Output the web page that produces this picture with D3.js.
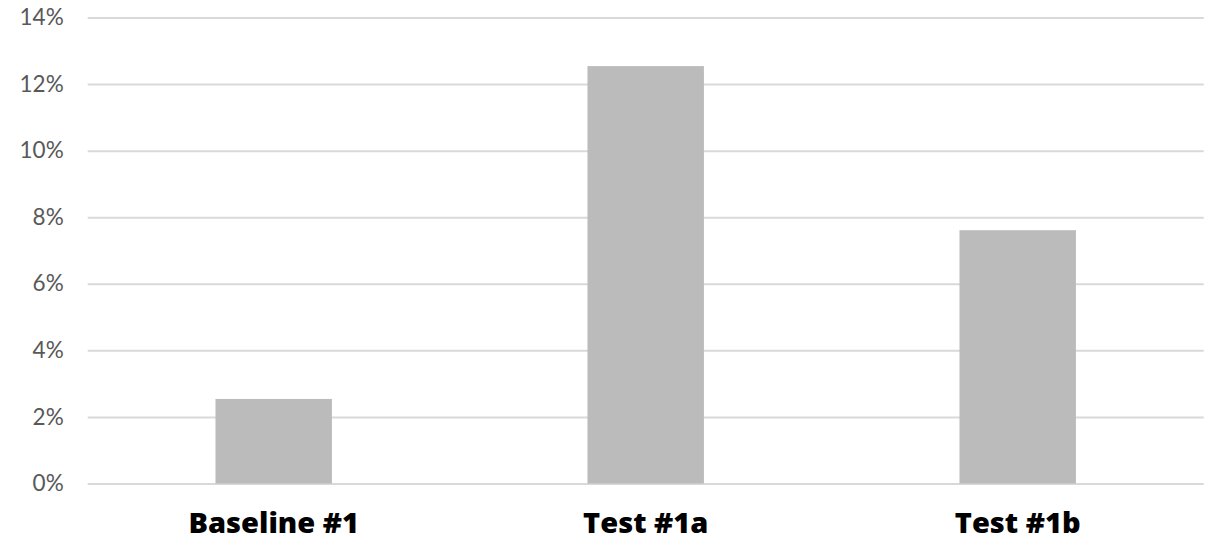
<!DOCTYPE html>
<html>
<head>
<meta charset="utf-8">
<script src="https://cdn.jsdelivr.net/npm/d3@7/dist/d3.min.js"></script>
<style>
  html, body { margin: 0; padding: 0; background: #fff; }
  svg { display: block; }
</style>
</head>
<body>
<svg id="chart" width="1216" height="540"></svg>
<script>
// Conversion rate per variant
const categories = ["Baseline #1", "Test #1a", "Test #1b"];
const values = [0.0254, 0.1254, 0.0761];
const yTicks = [0, 0.02, 0.04, 0.06, 0.08, 0.10, 0.12, 0.14];

const width = 1216, height = 540;
const margin = { top: 17.5, right: 12.3, bottom: 56.5, left: 87.7 };

const svg = d3.select("#chart");

const x = d3.scaleBand()
  .domain(categories)
  .range([margin.left, width - margin.right])
  .paddingInner(0.687)
  .paddingOuter(0.3435);

const y = d3.scaleLinear()
  .domain([0, 0.14])
  .range([height - margin.bottom, margin.top]);

// Horizontal gridlines with percentage labels on the left
const yAxis = d3.axisLeft(y)
  .tickValues(yTicks)
  .tickFormat(d3.format(".0%"))
  .tickSize(-(width - margin.left - margin.right))
  .tickPadding(24);

const gy = svg.append("g")
  .attr("transform", `translate(${margin.left},0)`)
  .call(yAxis);
gy.select(".domain").remove();
gy.selectAll(".tick line")
  .attr("stroke", "#d9d9d9")
  .attr("stroke-width", 2);
gy.selectAll(".tick text")
  .attr("fill", "#595959")
  .style("font-family", "Lato, 'Open Sans', sans-serif")
  .style("font-size", "22.5px");

// Bars
svg.append("g")
  .selectAll("rect")
  .data(values)
  .join("rect")
  .attr("x", (d, i) => x(categories[i]))
  .attr("width", x.bandwidth())
  .attr("y", d => y(d))
  .attr("height", d => y(0) - y(d))
  .attr("fill", "#bbbbbb");

// Category labels beneath the baseline
const xAxis = d3.axisBottom(x).tickSize(0).tickPadding(29);
const gx = svg.append("g")
  .attr("transform", `translate(0,${height - margin.bottom})`)
  .call(xAxis);
gx.select(".domain").remove();
gx.selectAll(".tick text")
  .attr("fill", "#000")
  .style("font-family", "'Open Sans', Lato, sans-serif")
  .style("font-weight", "800")
  .style("font-size", "29px");
</script>
</body>
</html>
